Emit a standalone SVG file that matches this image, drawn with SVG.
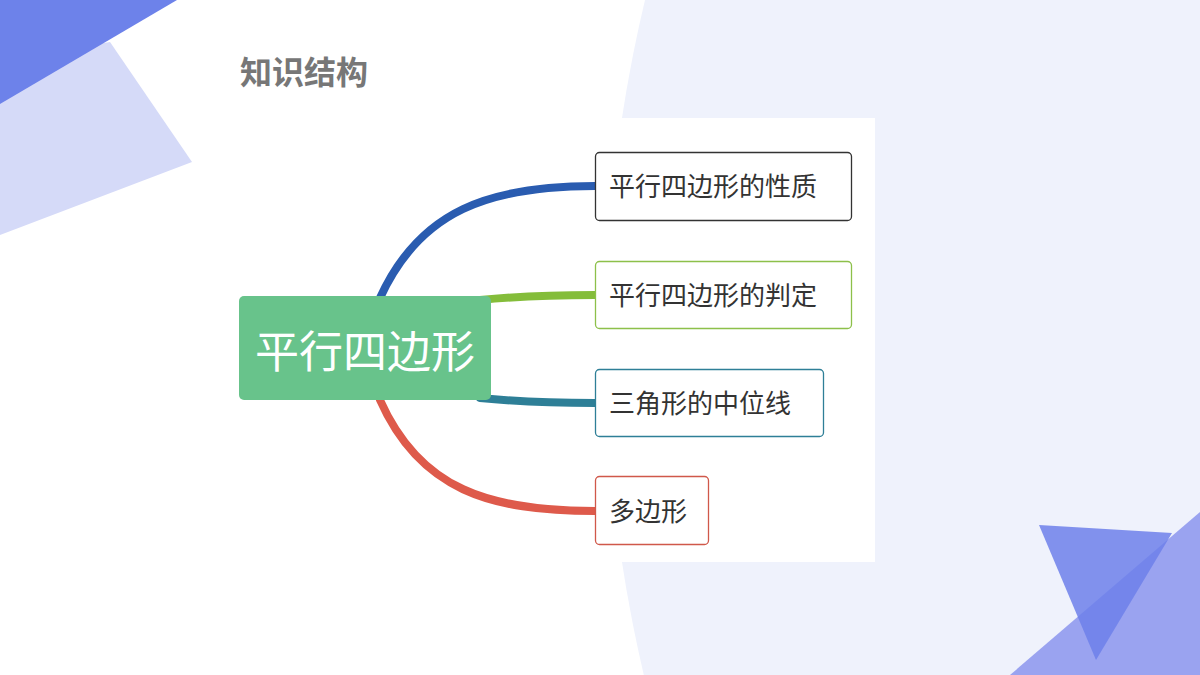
<svg xmlns="http://www.w3.org/2000/svg" width="1200" height="675" viewBox="0 0 1200 675">
<style>
.child rect{fill:#fff;stroke-width:1.3}
.child text{font-family:"Noto Sans CJK SC","Noto Sans",sans-serif;font-size:26px;fill:#333}
.conn path{fill:none;stroke-width:8;stroke-linecap:round}
</style>
<rect width="1200" height="675" fill="#fff"/>
<circle cx="2070" cy="340" r="1465" fill="#eff2fc"/>
<polygon points="0,60 110,42 192,162 0,235" fill="#d5daf8"/>
<polygon points="0,0 177,0 0,104" fill="#6d82ea"/>
<polygon points="1010,675 1200,512 1200,675" fill="#9aa3f0"/>
<polygon points="1039,525 1172,533 1096,660" fill="#6d80ea" opacity="0.85"/>
<text x="240" y="84" font-family="Noto Sans CJK SC,sans-serif" font-size="32" font-weight="bold" fill="#777">知识结构</text>
<rect x="490" y="118" width="385" height="444" fill="#fff"/>
<g class="conn">
<path d="M380,298 C420,210 490,186 595,186" stroke="#2a5cb0"/>
<path d="M480,300 C520,296 550,295 595,295" stroke="#84bd3a"/>
<path d="M480,398 C520,402 550,403 595,403" stroke="#2e7f97"/>
<path d="M380,400 C420,490 490,511 595,511" stroke="#de5a4b"/>
</g>
<g id="root"><rect x="239" y="296" width="252" height="104" rx="5" fill="#68c38b"/>
<text x="365" y="368" text-anchor="middle" font-family="Noto Sans CJK SC,sans-serif" font-size="44" fill="#fff">平行四边形</text></g>
<g id="n1" class="child"><rect x="595.5" y="152.5" width="256" height="68" rx="4" stroke="#333"/><text x="609" y="196">平行四边形的性质</text></g>
<g id="n2" class="child"><rect x="595.5" y="261.5" width="256" height="67" rx="4" stroke="#8dc04a"/><text x="609" y="305">平行四边形的判定</text></g>
<g id="n3" class="child"><rect x="595.5" y="369.5" width="228" height="67" rx="4" stroke="#2e7f97"/><text x="609" y="413">三角形的中位线</text></g>
<g id="n4" class="child"><rect x="595.5" y="476.5" width="113" height="68" rx="4" stroke="#d0584a"/><text x="609" y="521">多边形</text></g>
</svg>
